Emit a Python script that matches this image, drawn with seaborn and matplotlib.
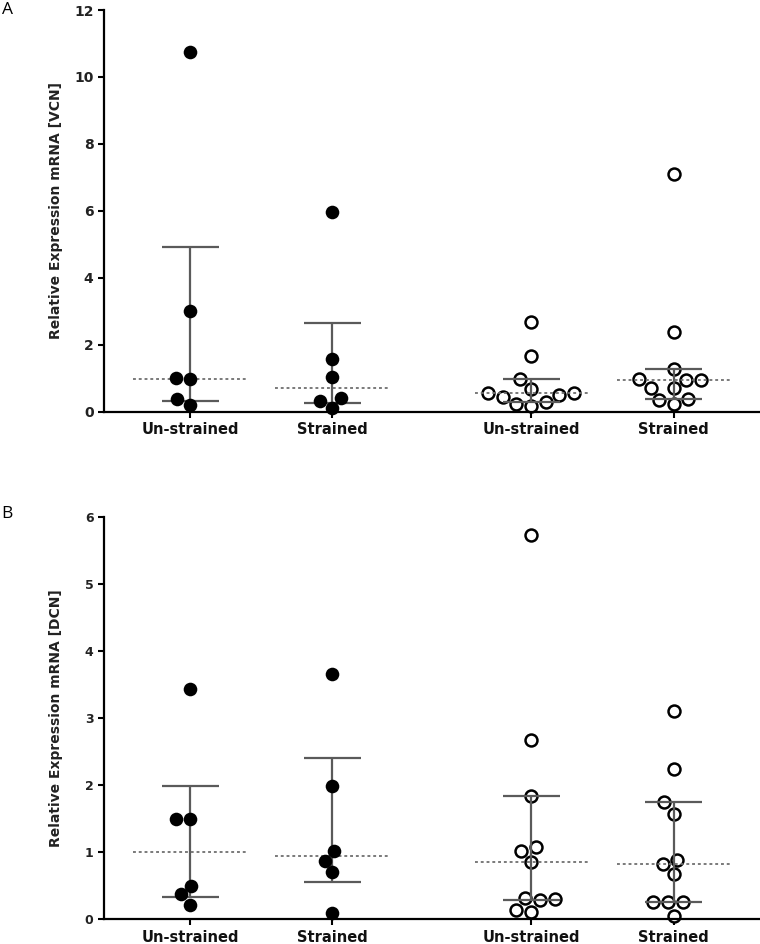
import numpy as np
import pandas as pd
import matplotlib
matplotlib.use("Agg")
import matplotlib.pyplot as plt
import seaborn as sns

# ---------------- data ----------------
group_labels = ["Un-strained", "Strained", "Un-strained", "Strained"]
group_style = ["filled", "filled", "open", "open"]

vcn_unstrained_filled = [10.75, 3.00, 1.00, 0.98, 0.38, 0.20]
vcn_strained_filled = [5.97, 1.57, 1.03, 0.43, 0.33, 0.11]
vcn_unstrained_open = [2.70, 1.68, 0.98, 0.56, 0.51, 0.31, 0.19, 0.24, 0.44, 0.56, 0.69]
vcn_strained_open = [7.11, 2.38, 1.27, 0.73, 0.96, 0.96, 0.98, 0.71, 0.38, 0.23, 0.36]

dcn_unstrained_filled = [3.43, 1.49, 1.50, 0.50, 0.37, 0.22]
dcn_strained_filled = [3.65, 1.98, 1.02, 0.87, 0.70, 0.10]
dcn_unstrained_open = [5.72, 2.67, 1.83, 1.02, 1.07, 0.86, 0.32, 0.29, 0.30, 0.11, 0.14]
dcn_strained_open = [3.10, 2.24, 1.74, 1.57, 0.82, 0.88, 0.67, 0.25, 0.25, 0.25, 0.05]

vcn_ticks = [0, 2, 4, 6, 8, 10, 12]
dcn_ticks = [0, 1, 2, 3, 4, 5, 6]

# ---------------- layout ----------------
POS = [0.0, 1.0, 2.4, 3.4]
CAP = 0.2
MED = 0.4
XLIM = (-0.606, 4.0)

sns.set_style("ticks")
plt.rcParams["font.family"] = ["DejaVu Sans"]

fig = plt.figure(figsize=(7.6, 9.44), dpi=100)
axA = fig.add_axes([0.1368, 0.5636, 0.8618, 0.4258])
axB = fig.add_axes([0.1368, 0.0262, 0.8618, 0.4266])


def panel(ax, series, ticks, ylabel, ytick_fs):
    recs = []
    for i, vals in enumerate(series):
        for v in vals:
            recs.append({"pos": POS[i], "val": v, "style": group_style[i]})
    df = pd.DataFrame(recs)

    for i, vals in enumerate(series):
        q1, med, q3 = np.percentile(vals, [25, 50, 75], method="weibull")
        x = POS[i]
        ax.vlines(x, q1, q3, color="#5a5a5a", lw=1.6, zorder=2)
        ax.hlines([q1, q3], x - CAP, x + CAP, color="#5a5a5a", lw=1.6, zorder=2)
        ax.plot([x - MED, x + MED], [med, med], color="#707070", lw=1.3,
                ls=(0, (1.6, 1.6)), zorder=2)

    filled = df[df["style"] == "filled"]
    sns.swarmplot(data=filled, x="pos", y="val", native_scale=True, orient="x",
                  color="black", size=9.8, ax=ax, zorder=3, clip_on=False)
    opn = df[df["style"] == "open"]
    sns.swarmplot(data=opn, x="pos", y="val", native_scale=True, orient="x",
                  color="white", edgecolor="black", linewidth=1.8, size=8.6,
                  ax=ax, zorder=1, clip_on=False)

    ax.set_xlim(*XLIM)
    ax.set_ylim(ticks[0], ticks[-1])
    ax.set_yticks(ticks)
    ax.set_yticklabels([str(t) for t in ticks], fontsize=ytick_fs,
                       fontweight="bold", color="#222222")
    ax.set_xticks(POS)
    ax.set_xticklabels(group_labels, fontsize=10.5, fontweight="bold",
                       color="#111111")
    ax.set_xlabel("")
    ax.set_ylabel(ylabel, fontsize=10, fontweight="bold", color="#222222")
    ax.yaxis.set_label_coords(-0.062, 0.5)
    sns.despine(ax=ax)
    for s in ("left", "bottom"):
        ax.spines[s].set_linewidth(1.6)
        ax.spines[s].set_color("black")
    ax.tick_params(axis="both", length=4, width=1.5, color="black")


panel(axA, [vcn_unstrained_filled, vcn_strained_filled,
            vcn_unstrained_open, vcn_strained_open],
      vcn_ticks, "Relative Expression mRNA [VCN]", 10)
panel(axB, [dcn_unstrained_filled, dcn_strained_filled,
            dcn_unstrained_open, dcn_strained_open],
      dcn_ticks, "Relative Expression mRNA [DCN]", 9)

fig.text(0.002, 0.998, "A", fontsize=12.5, color="black",
         family=["Open Sans", "DejaVu Sans"], ha="left", va="top")
fig.text(0.002, 1 - 506 / 944, "B", fontsize=12.5, color="black",
         family=["Open Sans", "DejaVu Sans"], ha="left", va="top")

fig.savefig("out.png", dpi=100)
